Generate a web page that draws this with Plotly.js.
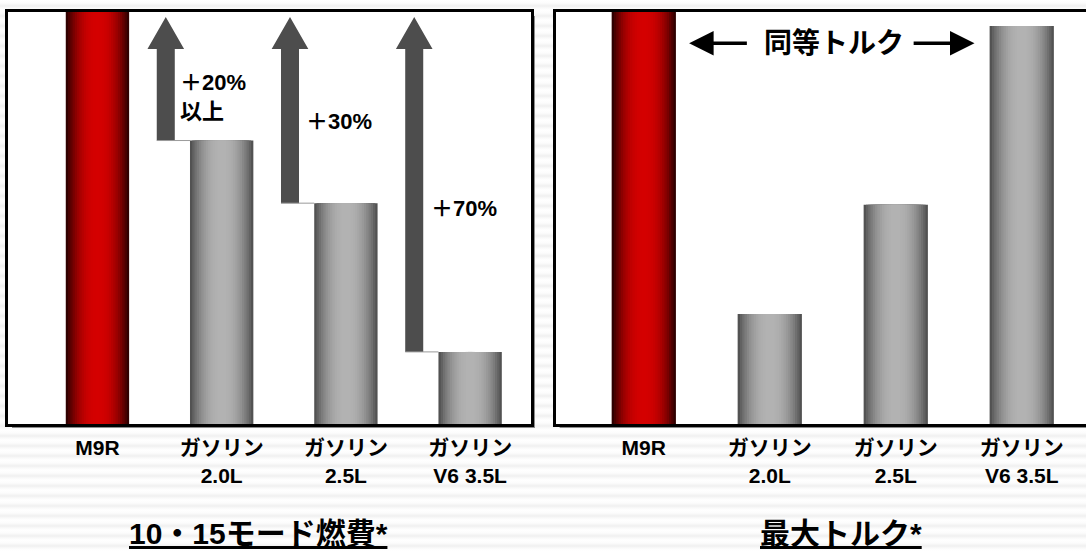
<!DOCTYPE html>
<html>
<head>
<meta charset="utf-8">
<script src="https://cdn.plot.ly/plotly-3.0.1.min.js"></script>
<style>
  html, body { margin: 0; padding: 0; }
  body {
    width: 1086px; height: 551px; overflow: hidden;
    background: repeating-linear-gradient(to bottom, #ffffff 0px, #fcfcfc 3px, #f0f0f0 6px, #f9f9f9 8px, #ffffff 10px);
  }
  #chart { width: 1086px; height: 551px; }
</style>
</head>
<body>
<div id="chart"></div>
<script>
// ---- data ----
const categories = ['M9R', 'ガソリン<br>2.0L', 'ガソリン<br>2.5L', 'ガソリン<br>V6 3.5L'];
const fuelEconomy = [100, 68.8, 53.6, 17.5];      // 10・15モード燃費 (relative)
const maxTorque = [100, 26.7, 53.2, 96.6];         // 最大トルク (relative)
const fuelGainLabels = ['', '＋20%<br>以上', '＋30%', '＋70%'];
const panelTitles = ['10・15モード燃費*', '最大トルク*'];
const torqueNote = '同等トルク';

// ---- layout helpers ----
const W = 1086, H = 551;
const px = v => v / W;
const py = v => 1 - v / H;
const FONT = '"Liberation Sans", "Noto Sans CJK JP", sans-serif';
const idx = categories.map((_, i) => i);
const yTop = 100;

const LEFT = { x0: 8, x1: 531 }, RIGHT = { x0: 555.6, x1: 1086 };
const FR = { top: 12, bottom: 424 };

// gradient bars built from overlaid bars of decreasing width
const N = 14, BARW = 0.51;
function hex(c) { return 'rgb(' + c.map(v => Math.round(v)).join(',') + ')'; }
function lerp(a, b, t) { return a.map((v, i) => v + (b[i] - v) * t); }
const redEdge = [48, 0, 0], redMid = [212, 0, 0];
const greyEdge = [82, 82, 82], greyMid = [178, 178, 178];

function gradientTraces(values, xa, ya) {
  const tr = [];
  for (let k = 0; k < N; k++) {
    const t = k / (N - 1);
    const e = 1 - Math.pow(1 - t, 2.2);
    tr.push({
      type: 'bar', x: idx, y: values, xaxis: xa, yaxis: ya,
      width: BARW * (1 - k / N),
      marker: { color: categories.map((c, i) => i === 0 ? hex(lerp(redEdge, redMid, e)) : hex(lerp(greyEdge, greyMid, e))), line: { width: 0 } },
      hoverinfo: 'skip', showlegend: false
    });
  }
  return tr;
}

const data = [].concat(gradientTraces(fuelEconomy, 'x', 'y'), gradientTraces(maxTorque, 'x2', 'y2'));

// ---- shapes ----
const shapes = [];
function panelBack(p, rightShadow) {
  shapes.push({ type: 'rect', xref: 'paper', yref: 'paper', layer: 'below',
    x0: px(p.x0 + 4), x1: px(p.x1 + (rightShadow ? 4 : 0)), y0: py(FR.bottom + 4), y1: py(FR.top + 4),
    fillcolor: '#8c8c8c', line: { width: 0 } });
  shapes.push({ type: 'rect', xref: 'paper', yref: 'paper', layer: 'below',
    x0: px(p.x0), x1: px(p.x1), y0: py(FR.bottom), y1: py(FR.top),
    fillcolor: '#ffffff', line: { width: 0 } });
}
panelBack(LEFT, true);
panelBack(RIGHT, false);

// arrows from each gasoline bar top up to the M9R level
const SHAFT_OFF = -0.45, SHAFT_W = 0.145, HEAD_W = 0.295, HEAD_BASE = 91.0, TIP = 98.8;
for (let i = 1; i < categories.length; i++) {
  const c = i + SHAFT_OFF, v = fuelEconomy[i];
  const path = 'M' + (c - SHAFT_W / 2) + ',' + v +
    ' L' + (c - SHAFT_W / 2) + ',' + HEAD_BASE +
    ' L' + (c - HEAD_W / 2) + ',' + HEAD_BASE +
    ' L' + c + ',' + TIP +
    ' L' + (c + HEAD_W / 2) + ',' + HEAD_BASE +
    ' L' + (c + SHAFT_W / 2) + ',' + HEAD_BASE +
    ' L' + (c + SHAFT_W / 2) + ',' + v + ' Z';
  shapes.push({ type: 'path', xref: 'x', yref: 'y', path: path, fillcolor: '#4d4d4d', line: { width: 0 }, layer: 'above' });
  shapes.push({ type: 'line', xref: 'x', yref: 'y', x0: c - SHAFT_W / 2, x1: i - BARW / 2, y0: v, y1: v,
    line: { color: '#9a9a9a', width: 1 }, layer: 'above' });
}

// ---- annotations ----
const annotations = [];
const gainPos = [null, { dx: -0.355, y: 79.3 }, { dx: -0.34, y: 73.5 }, { dx: -0.33, y: 52.4 }];
fuelGainLabels.forEach((t, i) => {
  if (!t) return;
  annotations.push({ xref: 'x', yref: 'y', x: i + gainPos[i].dx, y: gainPos[i].y, text: t,
    showarrow: false, xanchor: 'left', yanchor: 'middle', align: 'left',
    font: { family: FONT, size: 22, color: '#000', weight: 'bold' } });
});
annotations.push({ xref: 'x2', yref: 'y2', x: 1.51, y: 92.4, text: torqueNote, showarrow: false,
  font: { family: FONT, size: 28, color: '#000', weight: 'bold' } });
annotations.push({ xref: 'x2', yref: 'y2', axref: 'x2', ayref: 'y2', x: 0.36, y: 92.4, ax: 0.83, ay: 92.4,
  text: '', showarrow: true, arrowhead: 2, arrowsize: 1.4, arrowwidth: 3.5, arrowcolor: '#000' });
annotations.push({ xref: 'x2', yref: 'y2', axref: 'x2', ayref: 'y2', x: 2.625, y: 92.4, ax: 2.13, ay: 92.4,
  text: '', showarrow: true, arrowhead: 2, arrowsize: 1.4, arrowwidth: 3.5, arrowcolor: '#000' });
[258, 841].forEach((cx, k) => {
  annotations.push({ xref: 'paper', yref: 'paper', x: px(cx), y: py(533), xanchor: 'center', yanchor: 'middle',
    text: '<span style="text-decoration:underline">' + panelTitles[k] + '</span>', showarrow: false,
    font: { family: FONT, size: 30, color: '#000', weight: 'bold' } });
});

const xCommon = {
  tickmode: 'array', tickvals: idx, ticktext: categories, ticks: '',
  tickfont: { family: FONT, size: 21, color: '#000', weight: 'bold' },
  showgrid: false, zeroline: false, showline: true, linecolor: '#000', linewidth: 3, mirror: true,
  fixedrange: true, ticklabelstandoff: 3
};
const yCommon = {
  range: [0, yTop], showticklabels: false, ticks: '', showgrid: false, zeroline: false,
  showline: true, linecolor: '#000', linewidth: 3, fixedrange: true,
  domain: [py(FR.bottom), py(FR.top)]
};

const layout = {
  width: W, height: H,
  margin: { l: 0, r: 0, t: 0, b: 0 },
  paper_bgcolor: 'rgba(0,0,0,0)', plot_bgcolor: 'rgba(0,0,0,0)',
  barmode: 'overlay', hovermode: false, showlegend: false,
  xaxis: Object.assign({}, xCommon, { domain: [px(LEFT.x0), px(LEFT.x1)], range: [-0.72, 3.49], anchor: 'y' }),
  yaxis: Object.assign({}, yCommon, { anchor: 'x', mirror: true }),
  xaxis2: Object.assign({}, xCommon, { domain: [px(RIGHT.x0), 1], range: [-0.70, 3.51], anchor: 'y2' }),
  yaxis2: Object.assign({}, yCommon, { anchor: 'x2', mirror: false }),
  shapes: shapes,
  annotations: annotations,
  font: { family: FONT }
};

Plotly.newPlot('chart', data, layout, { displayModeBar: false, staticPlot: true });
</script>
</body>
</html>
